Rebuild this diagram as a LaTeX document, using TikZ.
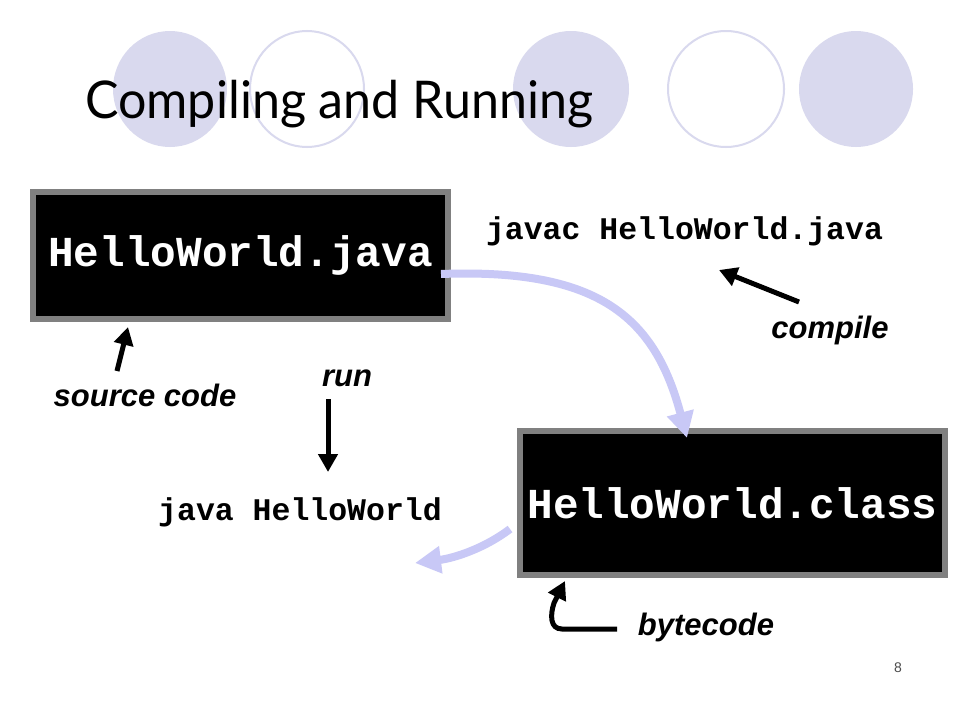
\documentclass[tikz,border=0pt]{standalone}
\usepackage{fontspec}
\setmainfont{Liberation Sans}
\newfontfamily\codefont{Liberation Mono}
\newfontfamily\titlefont{Lato}
\usetikzlibrary{arrows.meta}
\definecolor{circ}{HTML}{D9D9EE}
\definecolor{flow}{HTML}{C8C8F6}
\definecolor{boxgray}{HTML}{808080}
\tikzset{
  deco/.style={fill=circ},
  decoring/.style={draw=circ, line width=2pt},
  codebox/.style={draw=boxgray, line width=6pt, fill=black, text=white, inner sep=0pt,
    font=\codefont\bfseries\fontsize{42.7pt}{48pt}\selectfont},
  cmd/.style={inner sep=0pt, font=\codefont\bfseries\fontsize{31.5pt}{36pt}\selectfont},
  note/.style={inner sep=0pt, font=\bfseries\itshape\fontsize{31pt}{36pt}\selectfont},
  flowarrow/.style={draw=flow, line width=8pt, -{Triangle[length=26pt,width=26pt]}},
  blkarrow/.style={draw=black, line width=5pt, -{Triangle[length=18pt,width=19pt]}},
}
\begin{document}
\begin{tikzpicture}[x=1pt,y=-1pt]
\useasboundingbox (0,0) rectangle (960,720);
\fill[white] (0,0) rectangle (960,720);
% decorative circles
\fill[deco] (170,89) ellipse [x radius=57pt, y radius=58pt];
\draw[decoring] (307,89) ellipse [x radius=57pt, y radius=58pt];
\fill[deco] (571,89) ellipse [x radius=58pt, y radius=58pt];
\draw[decoring] (726,89) ellipse [x radius=58pt, y radius=58pt];
\fill[deco] (856,89) ellipse [x radius=57pt, y radius=58pt];
% title
\node[anchor=base west, inner sep=0pt, font=\titlefont\fontsize{52pt}{58pt}\selectfont] (title) at (85,118) {\scalebox{0.965}[1]{Compiling and Running}};
% boxes
\node[codebox, minimum width=415pt, minimum height=127pt] (jbox) at (240.5,255.5) {HelloWorld.java};
\node[codebox, minimum width=425pt, minimum height=144pt] (cbox) at (732.5,503) {HelloWorld.class};
% commands
\node[cmd] (javac) at (684.5,231) {javac HelloWorld.java};
\node[cmd] (java) at (300,512) {java HelloWorld};
% notes
\node[note] (src) at (145,395) {source code};
\node[note] (run) at (347,378) {run};
\node[note] (comp) at (830,330) {compile};
\node[note] (byte) at (706,627) {bytecode};
% coordinates
\coordinate (a1s) at (441,274);
\coordinate (a1e) at (687,438);
\coordinate (a2s) at (510,529);
\coordinate (a2e) at (415,563);
\coordinate (srct) at (117,371);
\coordinate (srch) at (128,327);
\coordinate (compt) at (799,302);
\coordinate (comph) at (719,270);
\coordinate (runt) at (328,399);
\coordinate (runh) at (328,472);
\coordinate (bytt) at (617,629);
\coordinate (byth) at (565,581);
% flow arrows
\draw[flowarrow] (a1s) .. controls (600,268) and (655,318) .. (a1e);
\draw[flowarrow] (a2s) .. controls (485,548) and (455,558) .. (a2e);
% black arrows
\draw[blkarrow] (srct) -- (srch);
\draw[blkarrow] (compt) -- (comph);
\draw[blkarrow] (runt) -- (runh);
\draw[blkarrow] (bytt) -- (562,629) .. controls (550,629) and (550,615) .. (554,603) -- (byth);
% page number
\node[inner sep=0pt, font=\fontsize{14pt}{16pt}\selectfont, text=black!70] (pg) at (898,668) {8};
\end{tikzpicture}
\end{document}
